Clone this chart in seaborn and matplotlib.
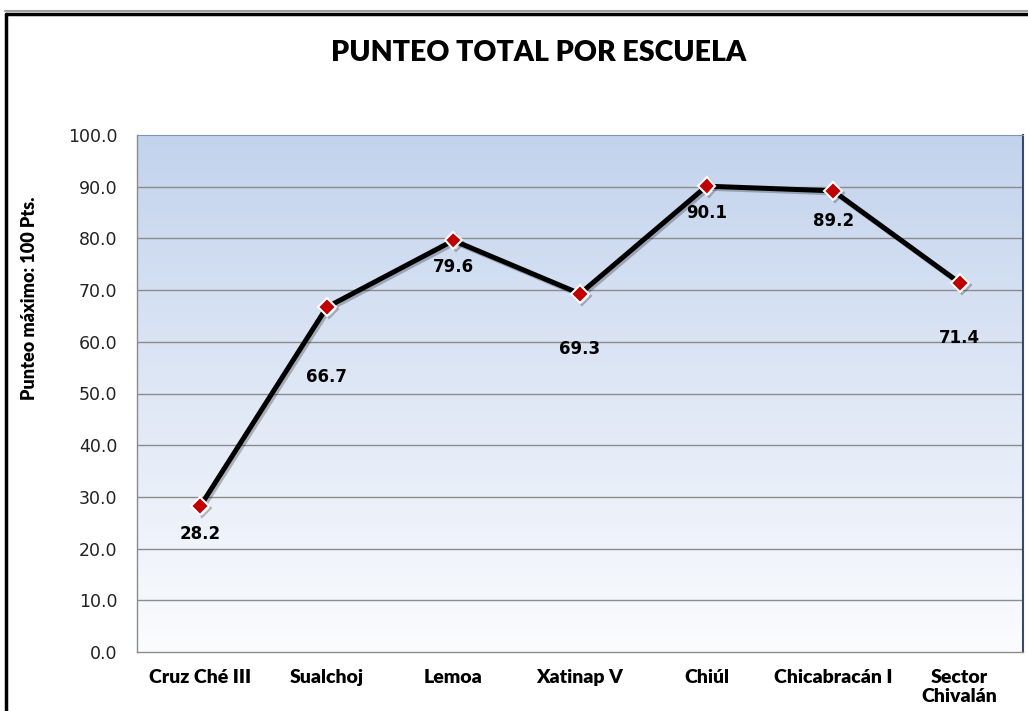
import numpy as np
import pandas as pd
import matplotlib
matplotlib.use("Agg")
import matplotlib.pyplot as plt
import matplotlib.patheffects as pe
from matplotlib.lines import Line2D
from matplotlib.colors import LinearSegmentedColormap
import seaborn as sns

# Datos
escuelas = ["Cruz Ché III", "Sualchoj", "Lemoa", "Xatinap V", "Chiúl",
            "Chicabracán I", "Sector\nChivalán"]
punteos = [28.2, 66.7, 79.6, 69.3, 90.1, 89.2, 71.4]
y_ticks = [0, 10, 20, 30, 40, 50, 60, 70, 80, 90, 100]

# desplazamiento vertical de las etiquetas (px debajo del punto)
label_offsets = [28, 70, 27, 55, 27, 30, 55]

sns.set_style("white")
plt.rcParams['font.family'] = ['DejaVu Sans']
plt.rcParams['text.color'] = 'black'

df = pd.DataFrame({"escuela": escuelas, "punteo": punteos})

fig = plt.figure(figsize=(10.28, 7.11), dpi=100)
ax = fig.add_axes([137/1028, 1 - 652/711, (1023-137)/1028, (652-135)/711])

# fondo degradado
cmap = LinearSegmentedColormap.from_list("fondo", ["#FBFCFE", "#C3D3ED"])
grad = np.linspace(0, 1, 256).reshape(-1, 1)
ax.imshow(grad, aspect="auto", cmap=cmap, origin="lower",
          extent=[-0.5, 6.5, 0, 100], zorder=0)

for t in y_ticks[1:-1]:
    ax.axhline(t, color="#8C8C8C", lw=1, zorder=1)

sns.lineplot(data=df, x="escuela", y="punteo", sort=False, ax=ax,
             color="black", lw=3.6, marker="D", markersize=9,
             markerfacecolor="#C00000", markeredgecolor="white",
             markeredgewidth=1.5, zorder=3,
             path_effects=[pe.SimpleLineShadow(offset=(1.5, -1.5), alpha=0.25),
                           pe.Normal()])

for i, (v, off) in enumerate(zip(punteos, label_offsets)):
    ax.annotate(f"{v:.1f}", (i, v), xytext=(0, -off * 0.72),
                textcoords="offset points", ha="center", va="center",
                fontsize=12, fontweight="bold", color="black", zorder=4)

ax.set_xlim(-0.5, 6.5)
ax.set_ylim(0, 100)
ax.set_yticks(y_ticks)
ax.set_yticklabels([f"{t:.1f}" for t in y_ticks], fontsize=12.5, color="#222222")
ax.set_xticks(range(len(escuelas)))
ax.set_xticklabels(escuelas, fontsize=14, fontweight="heavy", color="black",
                   family="Lato", linespacing=1.15)
ax.tick_params(axis="y", length=0, pad=14)
ax.tick_params(axis="x", length=0, pad=12)
ax.set_xlabel("")
ax.set_ylabel("")

for s in ["left", "bottom"]:
    ax.spines[s].set_color("#8C8C8C")
    ax.spines[s].set_linewidth(1)
ax.spines["top"].set_color("#7F93B5")
ax.spines["right"].set_color("#3A4A6A")
ax.spines["right"].set_linewidth(1.5)

fig.text(539/1028, 1 - 53/711, "PUNTEO TOTAL POR ESCUELA", ha="center",
         va="center", fontsize=20.5, fontweight="heavy", family="Lato", color="black")
fig.text(30/1028, 1 - 298/711, "Punteo máximo: 100 Pts.", rotation=90,
         ha="center", va="center", fontsize=13, fontweight="heavy", family="Lato",
         color="black")

# marco del gráfico
fig.add_artist(Line2D([5/1028, 1], [1 - 11/711, 1 - 11/711], color="#A0A0A0", lw=1.5))
fig.add_artist(Line2D([6/1028, 1], [1 - 14/711, 1 - 14/711], color="black", lw=2.5))
fig.add_artist(Line2D([6/1028, 6/1028], [0, 1 - 14/711], color="black", lw=2.5))

fig.savefig("out.png", dpi=100)
